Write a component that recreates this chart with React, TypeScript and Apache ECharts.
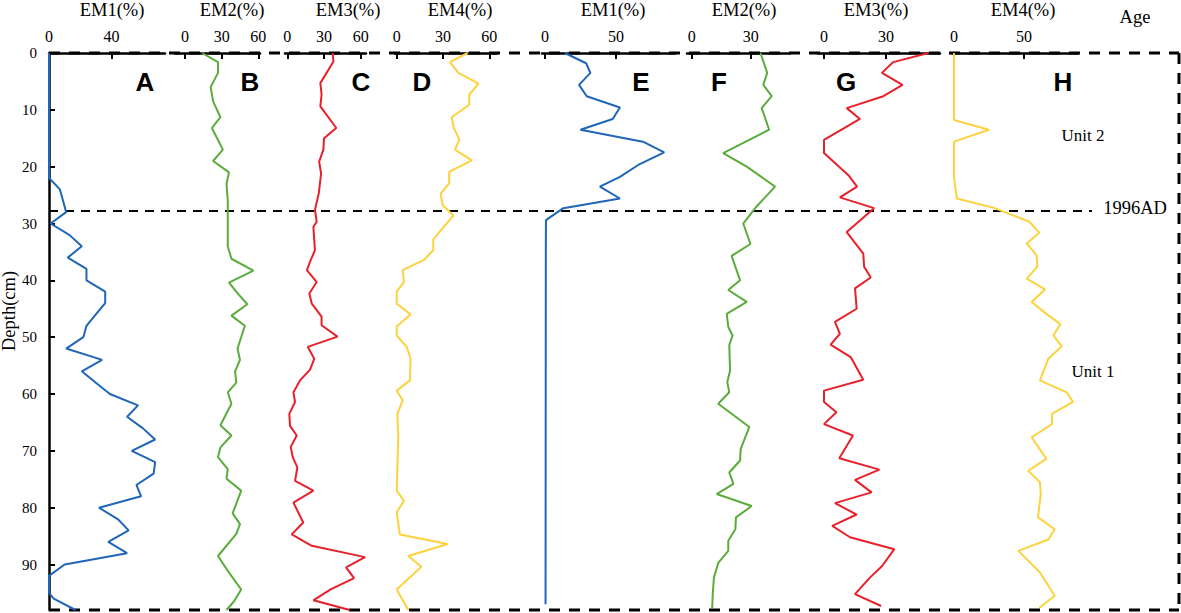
import React, { useEffect, useRef } from "react";
import * as echarts from "echarts";

// ---------- data (depth in cm, end-member contribution in %) ----------
const depthA = [0, 22, 24, 26, 28, 30, 32, 34, 36, 38, 40, 42, 44, 46, 48, 50, 52, 54, 56, 58, 60, 62, 64, 66, 68, 70, 72, 74, 76, 78, 80, 82, 84, 86, 88, 90, 92, 95, 96, 98];
const emA = [0, 0, 7, 9, 11, 1, 13, 21, 12, 24, 24, 36, 36, 30, 24, 22, 11, 34, 21, 30, 39, 57, 50, 60, 68, 53, 68, 67, 56, 59, 32, 44, 51, 38, 50, 10, 0, 0, 3, 17];

const depthB = [0, 1.6, 3.5, 6, 8.5, 11.3, 13.2, 17, 19, 21, 23, 26, 30, 34, 36.2, 38.3, 40.4, 42.5, 44.2, 46.2, 48, 52, 54, 56, 58, 59.7, 61.7, 65.5, 67.3, 69.4, 71.1, 73.2, 74.9, 77, 81, 82.9, 84.6, 88.5, 90.8, 94.4, 96.5, 98];
const emB = [14, 27, 27, 21, 23, 29, 22, 31, 23, 36, 34, 35, 35, 35, 38, 56, 36, 44, 51, 38, 49, 43, 45, 41, 42, 35, 38, 29, 38, 29, 27, 35, 34, 46, 39, 45, 42, 27, 34, 46, 40, 34];

const depthC = [0, 1.5, 5.3, 7.3, 9.4, 13.2, 15, 17, 19.1, 21.2, 24.7, 27.6, 29.7, 30.6, 32.9, 34.7, 36.7, 38.2, 40.3, 42.3, 44.1, 46.4, 47.9, 49.9, 51.7, 53.8, 55.7, 57.6, 59.7, 61.4, 63.5, 65.6, 67.3, 69.3, 71.1, 72.9, 75.3, 77, 79.1, 82.6, 84.7, 86.7, 88.7, 90.5, 92.4, 94.4, 96.3, 98];
const emC = [37, 37.7, 27, 28, 27, 40, 30, 29.5, 26, 27.6, 25.7, 22.6, 24, 21.3, 22, 22.6, 18.6, 16, 24, 18, 20, 28, 28, 41, 16.7, 22, 18.6, 10.4, 5, 6.3, 1.6, 2.2, 7.7, 2.8, 4.4, 8.2, 6.3, 21.3, 5, 13, 3.6, 20, 63.5, 48, 54.5, 35, 21.3, 51];

const depthD = [0, 1.6, 3.5, 5.4, 7.3, 9.1, 11.3, 13.2, 15.2, 17, 18.9, 20.9, 22.9, 24.8, 26.8, 28.6, 32.8, 34.7, 36.4, 38.2, 40.3, 42, 44.1, 46, 48.1, 49.7, 51.7, 53.8, 57.6, 59.4, 61.1, 63.5, 67.6, 77, 78.8, 80.8, 84.7, 86.4, 88.5, 90.4, 94.4, 98];
const emD = [46, 34.5, 40, 53, 47, 47, 35.6, 37, 40.6, 37.8, 48.6, 34, 34, 28.5, 29.8, 36.7, 23.7, 23.7, 17.7, 3.9, 4.7, 0, 0, 9, 0, 0, 6.5, 9, 8.6, 0, 3.9, 0.4, 1, 0, 4.7, 0, 2, 33, 7.5, 16, 0, 7.5];

const depthE = [0, 1.8, 3.5, 5.6, 7.6, 9.6, 11.6, 13.5, 15.6, 17.5, 19.7, 21.8, 23.5, 25.6, 27.3, 29.4, 33.5, 97];
const emE = [14, 29, 32, 24, 29.4, 52.8, 47.7, 25, 69, 84, 65.7, 52.8, 38.7, 52.8, 12.9, 0.7, 0.6, 0.4];

const depthF = [0, 3.5, 5.6, 7.6, 9.7, 13.5, 17.6, 20, 23.5, 27, 30, 33.6, 35.7, 40, 41.7, 43.8, 45.9, 48.2, 49.7, 51.4, 55.9, 57.9, 59.7, 61.7, 65.8, 69.7, 71.7, 73.8, 75.8, 77.6, 79.7, 81.7, 83.8, 85.8, 87.6, 89.7, 92.3, 95.2, 97.7];
const emF = [35, 38.4, 36.4, 40.7, 35.6, 39.4, 16, 28, 42.4, 33, 26.2, 29.9, 20.3, 24.6, 18.6, 28, 17.8, 18.6, 20.8, 19.1, 19.5, 18.1, 19.1, 13.5, 29.3, 24.9, 24.6, 19.1, 21.2, 12.7, 30.5, 22.5, 22.2, 18.6, 18.6, 13.5, 11.3, 10.7, 10.4];

const depthG = [0, 1.6, 3.5, 5.6, 7.6, 9.7, 11.6, 15.3, 17.6, 21.5, 23.5, 25.4, 27.3, 31.5, 35.3, 37.6, 39.5, 41.4, 45, 47.3, 49.4, 51.3, 53.5, 57.5, 59.4, 61.4, 63.2, 65.3, 67.3, 71.3, 73.3, 75.1, 77.3, 79.2, 81.2, 83.2, 85.2, 87.3, 90.3, 92.3, 95.2, 97.3];
const emG = [50.5, 33.5, 28, 38, 28.7, 11, 17.4, 0, 0, 11.8, 16, 7.7, 24.2, 11, 19, 19.4, 22.6, 15, 15.8, 5.3, 7.7, 3.2, 12.9, 19, 0, 0, 6, 0, 14, 7.4, 26.8, 15, 23, 5.3, 15.8, 4, 12.6, 34, 28, 22.2, 15, 27.6];

const depthH = [0, 11.8, 13.5, 15.6, 21.8, 25.6, 27.2, 29.7, 31.6, 33.5, 35.6, 37.6, 39.7, 41.6, 43.8, 45.9, 47.7, 49.7, 51.6, 53.8, 57.6, 59.7, 61.4, 63.5, 65.3, 67.6, 71.4, 73.5, 75.5, 77.6, 81.7, 83.8, 85.6, 87.6, 91.4, 95.5, 97.6];
const emH = [0, 0, 25, 0, 0, 2, 28, 54, 61, 52, 59, 59.5, 52, 65, 55.5, 66, 76, 71, 77, 67.4, 61.4, 80.5, 85, 70, 70, 55.5, 66, 53, 61.4, 62, 60, 72, 67.4, 46, 61.4, 72, 61];

const depthTickLabels = [0, 10, 20, 30, 40, 50, 60, 70, 80, 90];
const depthTickMarks = [10, 20, 30, 40, 50, 60, 70, 80, 90];
const depthMax = 98;
const boundaryDepth = 27.8;
const boundaryLabel = "1996AD";
const unitLabels = ["Unit 2", "Unit 1"];
const unitDepths = [14.5, 56];
const panelLetters = ["A", "B", "C", "D", "E", "F", "G", "H"];
const panelNames = ["EM1(%)", "EM2(%)", "EM3(%)", "EM4(%)", "EM1(%)", "EM2(%)", "EM3(%)", "EM4(%)"];
const ticksA = [0, 40];
const ticksB = [0, 30, 60];
const ticksC = [0, 30, 60];
const ticksD = [0, 30, 60];
const ticksE = [0, 50];
const ticksF = [0, 30];
const ticksG = [0, 30];
const ticksH = [0, 50];

const SERIF = '"Liberation Serif", "Times New Roman", Times, serif';
const SANS = '"Liberation Sans", Arial, Helvetica, sans-serif';
const BLUE = "#1f66b8";
const GREEN = "#5bab3d";
const RED = "#e8202a";
const YELLOW = "#fdd23e";

export default function App() {
  const ref = useRef<HTMLDivElement>(null);

  useEffect(() => {
    if (!ref.current) return;
    const chart = echarts.init(ref.current, null, { renderer: "svg" });

    const TOP = 53;
    const BOT = 610;
    const FRAME_L = 49;
    const FRAME_R = 1179;

    const panels = [
      { depth: depthA, values: emA, color: BLUE, min: 0, max: 74.3, left: 49, width: 116, ticks: ticksA, nameX: 112, letterX: 145 },
      { depth: depthB, values: emB, color: GREEN, min: -8.2, max: 61.4, left: 175, width: 85, ticks: ticksB, nameX: 232, letterX: 250 },
      { depth: depthC, values: emC, color: RED, min: -1.9, max: 64.3, left: 285, width: 81, ticks: ticksC, nameX: 348, letterX: 361 },
      { depth: depthD, values: emD, color: YELLOW, min: -1.1, max: 65, left: 395, width: 102, ticks: ticksD, nameX: 460, letterX: 422 },
      { depth: depthE, values: emE, color: BLUE, min: -2.1, max: 91.6, left: 542, width: 133, ticks: ticksE, nameX: 613, letterX: 641 },
      { depth: depthF, values: emF, color: GREEN, min: -2.4, max: 50, left: 687, width: 103, ticks: ticksF, nameX: 744, letterX: 719 },
      { depth: depthG, values: emG, color: RED, min: -2.9, max: 56.1, left: 818, width: 122, ticks: ticksG, nameX: 876, letterX: 846 },
      { depth: depthH, values: emH, color: YELLOW, min: -1.4, max: 88.6, left: 952, width: 126, ticks: ticksH, nameX: 1023, letterX: 1063 },
    ];

    const option: any = {
      animation: false,
      backgroundColor: "#ffffff",
      grid: panels.map((p) => ({
        left: p.left,
        width: p.width,
        top: TOP,
        height: BOT - TOP,
        containLabel: false,
        outerBoundsMode: "none",
      })),
      xAxis: panels.map((p, i) => ({
        gridIndex: i,
        type: "value",
        position: "top",
        min: p.min,
        max: p.max,
        axisLine: { show: true, onZero: false, lineStyle: { color: "#000", width: 2.5 } },
        axisTick: { show: true, inside: true, length: 6, customValues: p.ticks, lineStyle: { color: "#000", width: 2 } },
        axisLabel: { show: true, customValues: p.ticks, color: "#000", fontSize: 16, fontFamily: SERIF, margin: 9 },
        splitLine: { show: false },
      })),
      yAxis: panels.map((p, i) => ({
        gridIndex: i,
        type: "value",
        inverse: true,
        min: 0,
        max: depthMax,
        show: i === 0,
        axisLine: { show: true, onZero: false, lineStyle: { color: "#000", width: 2.5 } },
        axisTick: { show: true, inside: true, length: 6, customValues: depthTickMarks, lineStyle: { color: "#000", width: 2 } },
        axisLabel: { show: true, customValues: depthTickLabels, color: "#000", fontSize: 15, fontFamily: SERIF, margin: 12 },
        splitLine: { show: false },
      })),
      series: panels.map((p, i) => ({
        type: "line",
        xAxisIndex: i,
        yAxisIndex: i,
        data: p.depth.map((d, j) => [p.values[j], d]),
        symbol: "none",
        silent: true,
        clip: false,
        lineStyle: { color: p.color, width: 2 },
        itemStyle: { color: p.color },
      })),
    };

    chart.setOption(option);

    const yBoundary = chart.convertToPixel({ yAxisIndex: 0 }, boundaryDepth) as number;
    const yUnit2 = chart.convertToPixel({ yAxisIndex: 0 }, unitDepths[0]) as number;
    const yUnit1 = chart.convertToPixel({ yAxisIndex: 0 }, unitDepths[1]) as number;

    const dashed = (x1: number, y1: number, x2: number, y2: number, w: number, dash: number[]) => ({
      type: "line",
      silent: true,
      shape: { x1, y1, x2, y2 },
      style: { stroke: "#000", lineWidth: w, lineDash: dash },
    });
    const txt = (text: string, x: number, y: number, size: number, family: string, weight: any = "normal", extra: any = {}) => ({
      type: "text",
      silent: true,
      x,
      y,
      ...extra,
      style: { text, fontSize: size, fontFamily: family, fontWeight: weight, fill: "#000", align: "center", verticalAlign: "middle" },
    });

    const graphics: any[] = [
      dashed(FRAME_L, TOP, FRAME_R, TOP, 3, [11, 9]),
      dashed(FRAME_R, TOP, FRAME_R, BOT, 3, [11, 9]),
      dashed(FRAME_L, BOT, FRAME_R, BOT, 3, [11, 9]),
      dashed(FRAME_L, yBoundary, 1092, yBoundary, 2, [9, 7]),
      txt(boundaryLabel, 1135, yBoundary - 3, 18.5, SERIF),
      txt(unitLabels[0], 1083, yUnit2, 17, SERIF),
      txt(unitLabels[1], 1093, yUnit1, 17, SERIF),
      txt("Age", 1135, 17, 18.5, SERIF),
      txt("Depth(cm)", 9, 311, 18.5, SERIF, "normal", { rotation: Math.PI / 2 }),
    ];
    panels.forEach((p, i) => {
      graphics.push(txt(panelNames[i], p.nameX, 10, 18.5, SERIF));
      graphics.push(txt(panelLetters[i], p.letterX, 82, 26, SANS, "bold"));
    });

    chart.setOption({ graphic: graphics });

    return () => {
      chart.dispose();
    };
  }, []);

  return <div ref={ref} style={{ position: "absolute", left: 0, top: 0, width: 1181, height: 613 }} />;
}
